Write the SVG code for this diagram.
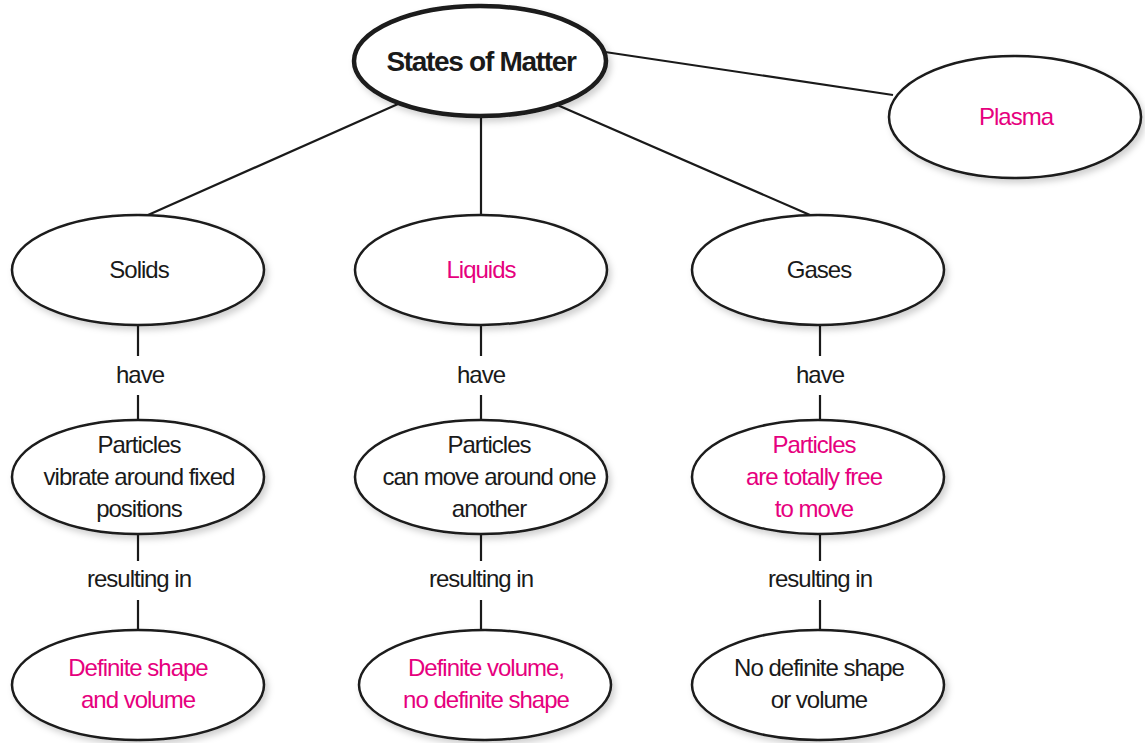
<svg xmlns="http://www.w3.org/2000/svg" width="1145" height="743" viewBox="0 0 1145 743">
<style>
.node{fill:#fff;stroke:#1a1a1a;stroke-width:2.5;filter:url(#sh)}
.main{stroke-width:4.5}
.edge{stroke:#1a1a1a;stroke-width:2.2;fill:none}
text{font-family:"Liberation Sans",Arial,sans-serif;font-size:24px;letter-spacing:-1px;text-anchor:middle;fill:#1a1a1a}
.pk{fill:#e6007e}
.title{font-weight:bold;font-size:28px;letter-spacing:-1.3px}
</style>
<defs>
<filter id="sh" x="-10%" y="-10%" width="125%" height="130%">
<feDropShadow dx="3" dy="4" stdDeviation="3" flood-color="#000" flood-opacity="0.18"/>
</filter>
</defs>
<rect width="1145" height="743" fill="#fff"/>
<g id="connectors">
<line class="edge" x1="398" y1="104" x2="148" y2="215"/>
<line class="edge" x1="481" y1="117" x2="481" y2="215"/>
<line class="edge" x1="555" y1="104" x2="810" y2="215"/>
<line class="edge" x1="605" y1="52" x2="893" y2="95"/>
<line class="edge" x1="138" y1="325" x2="138" y2="356"/>
<line class="edge" x1="138" y1="395" x2="138" y2="421"/>
<line class="edge" x1="138" y1="534" x2="138" y2="561"/>
<line class="edge" x1="138" y1="600" x2="138" y2="631"/>
<line class="edge" x1="481" y1="325" x2="481" y2="356"/>
<line class="edge" x1="481" y1="395" x2="481" y2="421"/>
<line class="edge" x1="481" y1="534" x2="481" y2="561"/>
<line class="edge" x1="481" y1="600" x2="481" y2="631"/>
<line class="edge" x1="820" y1="325" x2="820" y2="356"/>
<line class="edge" x1="820" y1="395" x2="820" y2="421"/>
<line class="edge" x1="820" y1="534" x2="820" y2="561"/>
<line class="edge" x1="820" y1="600" x2="820" y2="631"/>
<text x="140" y="383">have</text>
<text x="481" y="383">have</text>
<text x="820" y="383">have</text>
<text x="139" y="587">resulting in</text>
<text x="481" y="587">resulting in</text>
<text x="820" y="587">resulting in</text>
</g>
<g id="states">
<ellipse class="node main" cx="480" cy="61" rx="126" ry="55"/>
<text class="title" x="481" y="71">States of Matter</text>
</g>
<g id="plasma">
<ellipse class="node" cx="1015" cy="117" rx="126" ry="61"/>
<text class="pk" x="1016" y="125">Plasma</text>
</g>
<g id="solids">
<ellipse class="node" cx="138" cy="270" rx="126" ry="55"/>
<text x="139" y="278">Solids</text>
</g>
<g id="liquids">
<ellipse class="node" cx="481" cy="270" rx="126" ry="55"/>
<text class="pk" x="481" y="278">Liquids</text>
</g>
<g id="gases">
<ellipse class="node" cx="818" cy="270" rx="126" ry="55"/>
<text x="819" y="278">Gases</text>
</g>
<g id="solids-particles">
<ellipse class="node" cx="138" cy="477" rx="126" ry="57"/>
<text x="139" y="453">Particles</text>
<text x="139" y="485">vibrate around fixed</text>
<text x="139" y="517">positions</text>
</g>
<g id="liquids-particles">
<ellipse class="node" cx="481" cy="477" rx="126" ry="57"/>
<text x="489" y="453">Particles</text>
<text x="489" y="485">can move around one</text>
<text x="489" y="517">another</text>
</g>
<g id="gases-particles">
<ellipse class="node" cx="818" cy="477" rx="126" ry="57"/>
<text class="pk" x="814" y="453">Particles</text>
<text class="pk" x="814" y="485">are totally free</text>
<text class="pk" x="814" y="517">to move</text>
</g>
<g id="solids-result">
<ellipse class="node" cx="138" cy="685" rx="126" ry="55"/>
<text class="pk" x="138" y="676">Definite shape</text>
<text class="pk" x="138" y="708">and volume</text>
</g>
<g id="liquids-result">
<ellipse class="node" cx="485" cy="685" rx="126" ry="55"/>
<text class="pk" x="486" y="676">Definite volume,</text>
<text class="pk" x="486" y="708">no definite shape</text>
</g>
<g id="gases-result">
<ellipse class="node" cx="818" cy="685" rx="126" ry="55"/>
<text x="819" y="676">No definite shape</text>
<text x="819" y="708">or volume</text>
</g>
</svg>
